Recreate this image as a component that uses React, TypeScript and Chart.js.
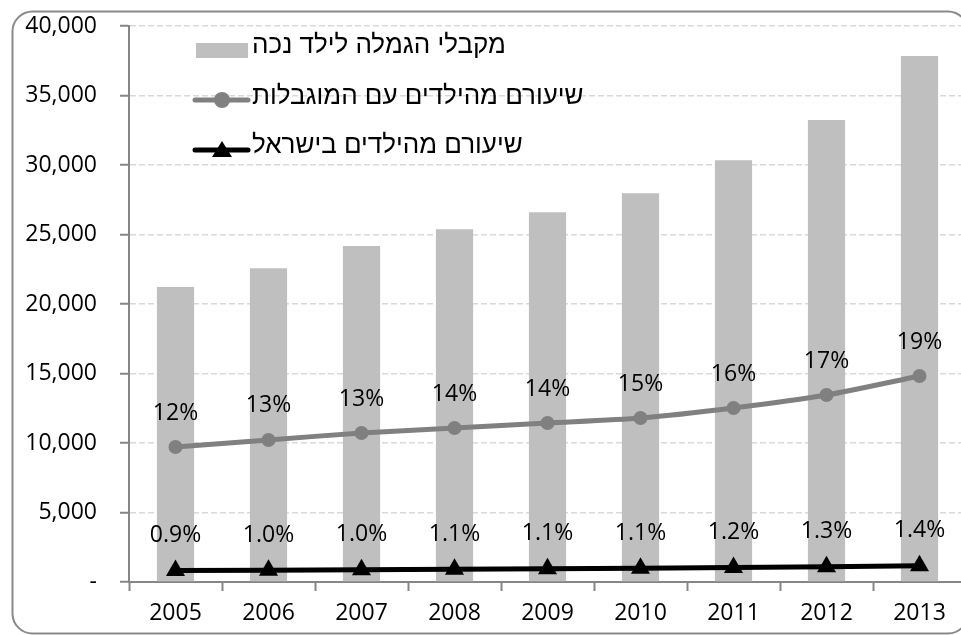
import React, { useEffect, useRef } from "react";
import { Chart, registerables } from "chart.js";

Chart.register(...registerables);

// ---- data ----
const years = ["2005", "2006", "2007", "2008", "2009", "2010", "2011", "2012", "2013"];
const recipients = [21220, 22570, 24170, 25370, 26600, 27960, 30340, 33240, 37840];
const disabledShareLine = [9710, 10220, 10720, 11080, 11440, 11800, 12520, 13450, 14820];
const israelShareLine = [820, 850, 880, 920, 960, 990, 1040, 1090, 1170];
const disabledShareLabels = ["12%", "13%", "13%", "14%", "14%", "15%", "16%", "17%", "19%"];
const israelShareLabels = ["0.9%", "1.0%", "1.0%", "1.1%", "1.1%", "1.1%", "1.2%", "1.3%", "1.4%"];
const seriesNames = [
  "מקבלי הגמלה לילד נכה",
  "שיעורם מהילדים עם המוגבלות",
  "שיעורם מהילדים בישראל",
];
const yMin = 0;
const yMax = 40000;
const yStep = 5000;

const NUM_FONT = "'Open Sans', 'DejaVu Sans', sans-serif";
const HEB_FONT = "'Liberation Sans', 'DejaVu Sans', sans-serif";
const BAR_COLOR = "#bfbfbf";
const GRAY_LINE = "#808080";
const AXIS_COLOR = "#868686";

const framePlugin = {
  id: "frame",
  beforeDraw(chart: any) {
    const ctx = chart.ctx;
    ctx.save();
    ctx.fillStyle = "#ffffff";
    ctx.fillRect(0, 0, chart.width, chart.height);
    const x0 = 12.5, y0 = 11.5, x1 = 968, y1 = 633.5, r = 20;
    ctx.beginPath();
    ctx.moveTo(x0 + r, y0);
    ctx.lineTo(x1 - r, y0);
    ctx.arcTo(x1, y0, x1, y0 + r, r);
    ctx.lineTo(x1, y1 - r);
    ctx.arcTo(x1, y1, x1 - r, y1, r);
    ctx.lineTo(x0 + r, y1);
    ctx.arcTo(x0, y1, x0, y1 - r, r);
    ctx.lineTo(x0, y0 + r);
    ctx.arcTo(x0, y0, x0 + r, y0, r);
    ctx.closePath();
    ctx.strokeStyle = "#8a8a8a";
    ctx.lineWidth = 2;
    ctx.stroke();
    ctx.restore();
  },
};

const labelsPlugin = {
  id: "pctLabels",
  afterDatasetsDraw(chart: any) {
    const ctx = chart.ctx;
    const sets: [number, string[], number][] = [
      [1, disabledShareLabels, 34],
      [2, israelShareLabels, 35],
    ];
    ctx.save();
    ctx.font = `23px ${NUM_FONT}`;
    ctx.fillStyle = "#000000";
    ctx.textAlign = "center";
    ctx.textBaseline = "middle";
    sets.forEach(([idx, labels, off]) => {
      const meta = chart.getDatasetMeta(idx);
      meta.data.forEach((pt: any, i: number) => {
        ctx.fillText(labels[i], pt.x, pt.y - off);
      });
    });
    ctx.restore();
  },
};

const legendPlugin = {
  id: "customLegend",
  afterDraw(chart: any) {
    const ctx = chart.ctx;
    const ds = chart.data.datasets;
    const sx0 = 193, sx1 = 250, tx = 252;
    const cx = 222;
    const rows = [46, 97, 146];
    ctx.save();
    // bar swatch
    ctx.fillStyle = ds[0].backgroundColor;
    ctx.fillRect(196, 43, 52, 15);
    // gray line swatch
    ctx.strokeStyle = ds[1].borderColor;
    ctx.lineWidth = 5;
    ctx.lineCap = "round";
    ctx.beginPath();
    ctx.moveTo(sx0 + 2, 100);
    ctx.lineTo(sx1 - 2, 100);
    ctx.stroke();
    ctx.fillStyle = ds[1].borderColor;
    ctx.beginPath();
    ctx.arc(cx, 100, 8, 0, Math.PI * 2);
    ctx.fill();
    // black line swatch
    ctx.strokeStyle = ds[2].borderColor;
    ctx.beginPath();
    ctx.moveTo(sx0 + 2, 150);
    ctx.lineTo(sx1 - 2, 150);
    ctx.stroke();
    ctx.fillStyle = ds[2].borderColor;
    ctx.beginPath();
    ctx.moveTo(cx, 141);
    ctx.lineTo(cx + 10, 157);
    ctx.lineTo(cx - 10, 157);
    ctx.closePath();
    ctx.fill();
    // texts
    ctx.font = `26px ${HEB_FONT}`;
    ctx.textBaseline = "middle";
    ctx.textAlign = "left";
    ctx.direction = "rtl";
    ctx.fillStyle = "#000000";
    ds.forEach((d: any, i: number) => {
      ctx.fillText(d.label, tx, rows[i]);
    });
    ctx.restore();
  },
};

export default function App() {
  const ref = useRef<HTMLCanvasElement | null>(null);
  useEffect(() => {
    if (!ref.current) return;
    const chart = new Chart(ref.current, {
      type: "bar",
      data: {
        labels: years,
        datasets: [
          {
            type: "bar",
            label: seriesNames[0],
            data: recipients,
            backgroundColor: BAR_COLOR,
            borderWidth: 0,
            categoryPercentage: 0.4,
            barPercentage: 1,
            order: 3,
          } as any,
          {
            type: "line",
            label: seriesNames[1],
            data: disabledShareLine,
            borderColor: GRAY_LINE,
            backgroundColor: GRAY_LINE,
            borderWidth: 5,
            pointRadius: 7,
            pointStyle: "circle",
            pointBorderWidth: 0,
            tension: 0.25,
            order: 2,
          } as any,
          {
            type: "line",
            label: seriesNames[2],
            data: israelShareLine,
            borderColor: "#000000",
            backgroundColor: "#000000",
            borderWidth: 5,
            pointRadius: 11,
            pointStyle: "triangle",
            pointBorderWidth: 0,
            tension: 0,
            order: 1,
          } as any,
        ],
      },
      options: {
        animation: false,
        responsive: false,
        maintainAspectRatio: false,
        layout: { padding: { left: 0, right: 24, top: 26, bottom: 0 } },
        plugins: {
          legend: { display: false },
          tooltip: { enabled: false },
          title: { display: false },
        },
        scales: {
          x: {
            offset: true,
            grid: {
              display: true,
              offset: true,
              drawOnChartArea: false,
              drawTicks: true,
              tickLength: 9,
              tickColor: AXIS_COLOR,
              tickWidth: 2,
            },
            border: { display: true, color: AXIS_COLOR, width: 2 },
            ticks: {
              color: "#000000",
              font: { family: NUM_FONT, size: 23 },
              padding: 9,
              maxRotation: 0,
              autoSkip: false,
            },
            afterFit: (s: any) => {
              s.height = 78;
              s.paddingLeft = 0;
              s.paddingRight = 0;
            },
          },
          y: {
            min: yMin,
            max: yMax,
            ticks: {
              stepSize: yStep,
              color: "#000000",
              font: { family: NUM_FONT, size: 23 },
              padding: 23,
              callback: (v: any) => (Number(v) === 0 ? "-" : Number(v).toLocaleString("en-US")),
            },
            grid: {
              color: "#d9d9d9",
              lineWidth: 1.5,
              drawTicks: true,
              tickLength: 9,
              tickColor: AXIS_COLOR,
              tickWidth: 2,
              tickBorderDash: [],
            },
            border: { display: true, color: AXIS_COLOR, width: 2, dash: [6, 3] },
            afterFit: (s: any) => {
              s.width = 129;
              s.paddingTop = 0;
              s.paddingBottom = 0;
            },
          },
        },
      } as any,
      plugins: [framePlugin, labelsPlugin, legendPlugin],
    });
    return () => chart.destroy();
  }, []);

  return (
    <div
      style={{
        position: "fixed",
        left: 0,
        top: 0,
        width: 961,
        height: 635,
        overflow: "hidden",
        background: "#ffffff",
      }}
    >
      <canvas ref={ref} width={990} height={660} style={{ display: "block", width: 990, height: 660 }} />
    </div>
  );
}
